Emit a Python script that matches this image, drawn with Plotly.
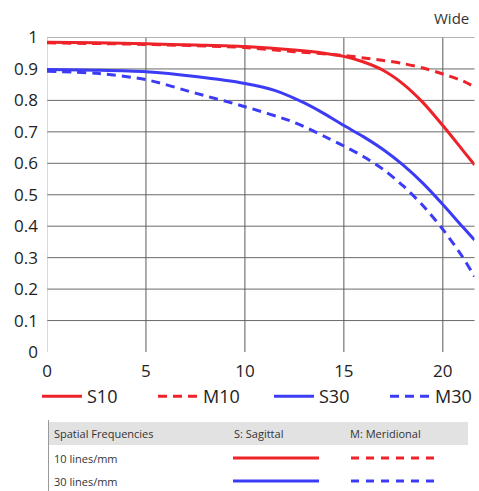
import plotly.graph_objects as go

W, H = 479, 491

# ---- data ----
x_s10 = [0, 2.5, 5, 7.5, 10, 12.5, 14, 15, 16, 17, 18, 19, 20, 21, 21.6]
s10 = [0.985, 0.983, 0.980, 0.976, 0.971, 0.960, 0.950, 0.940, 0.922, 0.895, 0.852, 0.793, 0.720, 0.642, 0.595]

x_m10 = [0, 5, 10, 12.5, 15, 16, 17, 18, 19, 20, 21, 21.6]
m10 = [0.983, 0.978, 0.968, 0.955, 0.943, 0.935, 0.927, 0.917, 0.903, 0.884, 0.862, 0.843]

x_s30 = [0, 2.5, 5, 7.5, 10, 11.5, 13, 14, 15, 16, 17, 18, 19, 20, 21, 21.6]
s30 = [0.898, 0.896, 0.891, 0.876, 0.854, 0.832, 0.792, 0.758, 0.720, 0.684, 0.643, 0.594, 0.536, 0.469, 0.398, 0.356]

x_m30 = [0, 2.5, 5, 7.5, 10, 12.5, 14, 15, 16, 17, 18, 19, 20, 21, 21.6]
m30 = [0.893, 0.886, 0.866, 0.823, 0.780, 0.730, 0.686, 0.655, 0.621, 0.580, 0.528, 0.465, 0.390, 0.302, 0.240]

x_ticks = [0, 5, 10, 15, 20]
y_ticks = [0, 0.1, 0.2, 0.3, 0.4, 0.5, 0.6, 0.7, 0.8, 0.9, 1]
y_tick_text = ["0", "0.1", "0.2", "0.3", "0.4", "0.5", "0.6", "0.7", "0.8", "0.9", "1"]

series_names = ["S10", "M10", "S30", "M30"]
table_header = ["Spatial Frequencies", "S: Sagittal", "M: Meridional"]
table_rows = ["10 lines/mm", "30 lines/mm"]
title_text = "Wide"

RED = "#ee2229"
BLUE = "#3c3cf6"
FONT = "Open Sans"
DASH = "9px,6px"

def px(p):
    return p / W

def py(p):
    return 1 - p / H

# plot area in pixels
L, R, T, B = 47, 474.5, 37.5, 352

fig = go.Figure()
fig.add_trace(go.Scatter(x=x_s10, y=s10, name=series_names[0], mode="lines",
                         line=dict(color=RED, width=3, shape="spline", smoothing=0.8)))
fig.add_trace(go.Scatter(x=x_m10, y=m10, name=series_names[1], mode="lines",
                         line=dict(color=RED, width=3, dash=DASH, shape="spline", smoothing=0.8)))
fig.add_trace(go.Scatter(x=x_s30, y=s30, name=series_names[2], mode="lines",
                         line=dict(color=BLUE, width=3, shape="spline", smoothing=0.8)))
fig.add_trace(go.Scatter(x=x_m30, y=m30, name=series_names[3], mode="lines",
                         line=dict(color=BLUE, width=3, dash=DASH, shape="spline", smoothing=0.8)))

shapes = []
# vertical grid
for xv in x_ticks:
    shapes.append(dict(type="line", xref="x", yref="y", x0=xv, x1=xv, y0=0, y1=1,
                       line=dict(color="#b5b5b5" if xv == 0 else "#5a5a5a", width=1),
                       layer="below"))
# horizontal grid (none at 0)
for yv in y_ticks[1:]:
    shapes.append(dict(type="line", xref="paper", yref="y", x0=px(L), x1=px(R), y0=yv, y1=yv,
                       line=dict(color="#6a6a6a", width=1), layer="below"))

# table
shapes.append(dict(type="rect", xref="paper", yref="paper", x0=px(48), x1=px(468),
                   y0=py(445), y1=py(422), fillcolor="#e2e2e2", line=dict(width=0), layer="below"))
shapes.append(dict(type="line", xref="paper", yref="paper", x0=px(48.5), x1=px(48.5),
                   y0=py(491), y1=py(420), line=dict(color="#9a9a9a", width=1)))
row_y = [458, 481]
row_colors = [RED, BLUE]
for ry, col in zip(row_y, row_colors):
    shapes.append(dict(type="line", xref="paper", yref="paper", x0=px(233), x1=px(319),
                       y0=py(ry), y1=py(ry), line=dict(color=col, width=3)))
    shapes.append(dict(type="line", xref="paper", yref="paper", x0=px(351), x1=px(441),
                       y0=py(ry), y1=py(ry), line=dict(color=col, width=3, dash="8px,7px")))

annotations = []
annotations.append(dict(text=title_text, xref="paper", yref="paper", x=px(471), y=py(18),
                        xanchor="right", yanchor="middle", showarrow=False,
                        font=dict(family=FONT, size=15, color="#333")))
header_x = [52, 232, 348]
for tx, t in zip(header_x, table_header):
    annotations.append(dict(text=t, xref="paper", yref="paper", x=px(tx), y=py(433),
                            xanchor="left", yanchor="middle", showarrow=False,
                            font=dict(family=FONT, size=11, color="#333")))
for ry, t in zip(row_y, table_rows):
    annotations.append(dict(text=t, xref="paper", yref="paper", x=px(52), y=py(ry),
                            xanchor="left", yanchor="middle", showarrow=False,
                            font=dict(family=FONT, size=11, color="#333")))

fig.update_layout(
    width=W, height=H,
    margin=dict(l=0, r=0, t=0, b=0, autoexpand=False),
    paper_bgcolor="white", plot_bgcolor="white",
    font=dict(family=FONT, color="#222"),
    xaxis=dict(domain=[px(L), px(R)], range=[0, 21.6], tickvals=x_ticks,
               showgrid=False, zeroline=False, showline=False, ticks="",
               tickfont=dict(size=17, color="#222"), ticklabelstandoff=7, fixedrange=True),
    yaxis=dict(domain=[py(B), py(T)], range=[0, 1], tickvals=y_ticks, ticktext=y_tick_text,
               showgrid=False, zeroline=False, showline=False, ticks="",
               tickfont=dict(size=17, color="#222"), ticklabelstandoff=8, fixedrange=True),
    showlegend=True,
    legend=dict(orientation="h", xref="container", yref="container",
                x=px(37), y=py(378), xanchor="left", yanchor="top",
                font=dict(family=FONT, size=18, color="#222"),
                entrywidth=61, entrywidthmode="pixels", itemwidth=40,
                bgcolor="rgba(0,0,0,0)", tracegroupgap=0),
    shapes=shapes,
    annotations=annotations,
)

fig.write_html("out.html")
